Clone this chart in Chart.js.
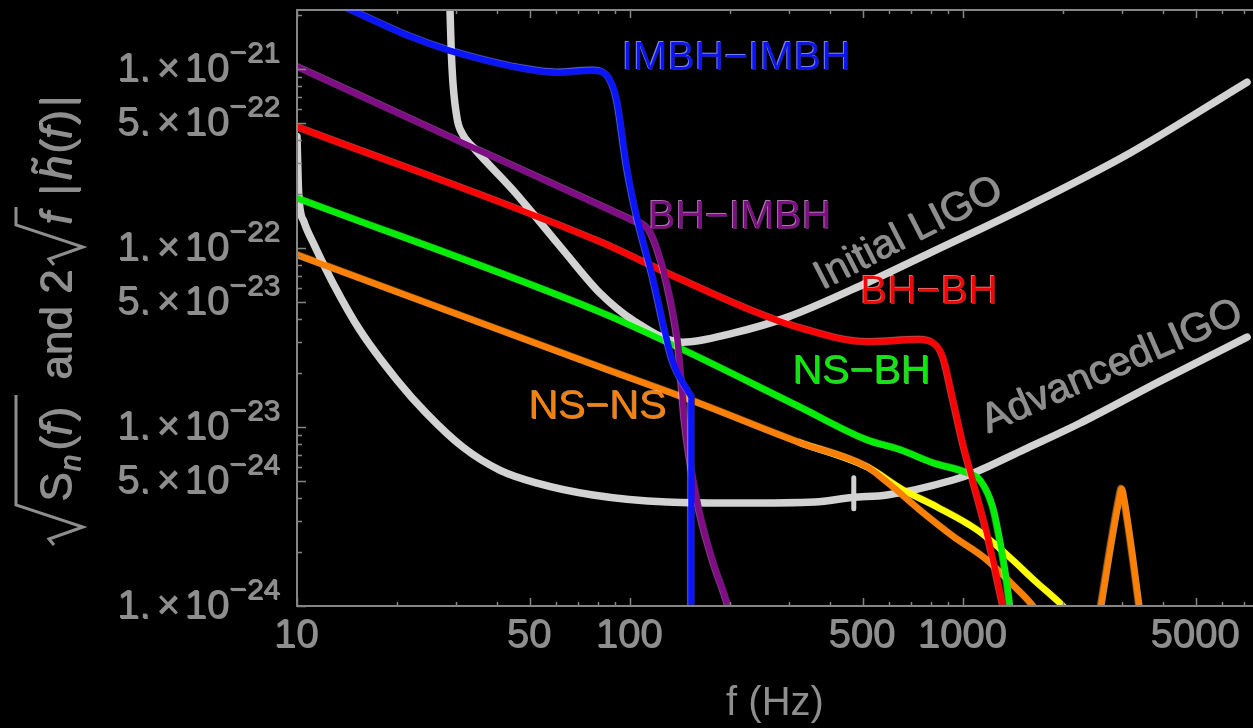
<!DOCTYPE html>
<html>
<head>
<meta charset="utf-8">
<title>LIGO noise curves and binary inspiral signals</title>
<script src="https://cdn.jsdelivr.net/npm/chart.js@4.4.1/dist/chart.umd.min.js"></script>
<style>
  html, body { margin: 0; padding: 0; background: #000; }
  #wrap { width: 1253px; height: 728px; }
</style>
</head>
<body>
<div id="wrap"><canvas id="chart" width="1253" height="728"></canvas></div>
<script>
// Frequencies in Hz, amplitudes in 1/sqrt(Hz)

// Detector noise curves
const freqInitialLigo = [28.6, 28.8, 29.2, 30.2, 31.3, 33.8, 44.5, 63, 81.3, 102, 144, 204, 296, 515, 796, 1600, 3177, 7130];
const ampInitialLigo  = [4e-21, 2.2e-21, 1.03e-21, 5.4e-22, 4.39e-22, 3.66e-22, 2.11e-22, 9.75e-23, 5.6e-23, 3.96e-23, 2.98e-23, 3.35e-23, 4.1e-23, 6.4e-23, 9.4e-23, 1.75e-22, 3.4e-22, 8.45e-22];

const freqAdvLigo = [10, 10.12, 10.5, 11.3, 12.83, 15.45, 19.97, 24.4, 31.5, 40.6, 52.6, 77.4, 129, 216, 359, 465, 591, 934, 1075, 1530, 2244, 3900, 7130];
const ampAdvLigo  = [4.2e-22, 2.0e-22, 1.4e-22, 1.03e-22, 6.37e-23, 3.48e-23, 1.83e-23, 1.2e-23, 7.72e-24, 5.75e-24, 4.86e-24, 4.17e-24, 3.81e-24, 3.76e-24, 3.81e-24, 4.04e-24, 4.17e-24, 5.06e-24, 5.53e-24, 7.5e-24, 1.05e-23, 1.8e-23, 3.18e-23];

// narrow resonance line on the Advanced LIGO curve
const freqAdvLigoLine = [470, 470];
const ampAdvLigoLine  = [5.2e-24, 3.5e-24];

// Signals
const freqImbhImbh = [10, 14.1, 22, 28.2, 44.5, 60.4, 77.4, 85.3, 91.4, 97.9, 105, 117, 134, 153];
const ampImbhImbh  = [2.9e-21, 2.19e-21, 1.51e-21, 1.28e-21, 1.03e-21, 9.55e-22, 9.8e-22, 9.2e-22, 6.7e-22, 2.84e-22, 1.49e-22, 6.9e-23, 2.37e-23, 1.47e-23];
const freqImbhCut = [153, 153];
const ampImbhCut  = [1.47e-23, 5e-25];

const freqBhImbh = [10, 31.5, 88.9, 102, 114, 121, 129, 138, 141, 146, 159, 177, 197, 210];
const ampBhImbh  = [1.03e-21, 3.86e-22, 1.6e-22, 1.42e-22, 1.26e-22, 9.75e-23, 6.37e-23, 3.35e-23, 2.37e-23, 1.09e-23, 3.91e-24, 1.81e-24, 1e-24, 6e-25];

const freqBhBh = [10, 81.3, 129, 229, 324, 515, 743, 813, 871, 934, 1000, 1050, 1180, 1320, 1400];
const ampBhBh  = [4.74e-22, 1.08e-22, 7.24e-23, 4.51e-23, 3.57e-23, 2.98e-23, 3.06e-23, 2.94e-23, 2.46e-23, 1.42e-23, 8.1e-24, 5.75e-24, 2.56e-24, 1e-24, 6e-25];

const freqNsBh = [10, 81.3, 129, 324, 515, 647, 813, 1028, 1125, 1230, 1291, 1356, 1384, 1430];
const ampNsBh  = [1.9e-22, 4.38e-23, 2.98e-23, 1.29e-23, 8.45e-24, 7.45e-24, 6.29e-24, 5.53e-24, 5.06e-24, 3.57e-24, 2.34e-24, 1.35e-24, 1e-24, 6e-25];

const freqNsNs = [10, 81.3, 151, 324, 515, 591, 743, 934, 1180, 1413, 1622, 1680];
const ampNsNs  = [9.14e-23, 2.16e-23, 1.42e-23, 8.15e-24, 5.98e-24, 4.93e-24, 3.43e-24, 2.45e-24, 1.81e-24, 1.31e-24, 1e-24, 9e-25];

const freqNsNsAlt = [324, 515, 661, 836, 1102, 1356, 1667, 1995, 2100];
const ampNsNsAlt  = [8.15e-24, 5.98e-24, 4.45e-24, 3.57e-24, 2.66e-24, 1.93e-24, 1.35e-24, 1e-24, 9e-25];

const freqNsNsPeak = [2523, 2960, 3000, 3040, 3475];
const ampNsNsPeak  = [7e-25, 4.1e-24, 4.5e-24, 4.1e-24, 7e-25];

// Axes
const xMin = 10, xMax = 7430;
const yMin = 1e-24, yMax = 2.14e-21;
const xTickValues = [10, 50, 100, 500, 1000, 5000];
const xTickLabels = ['10', '50', '100', '500', '1000', '5000'];
const yTickValues    = [1e-24, 5e-24, 1e-23, 5e-23, 1e-22, 5e-22, 1e-21];
const yTickMantissas = ['1.', '5.', '1.', '5.', '1.', '5.', '1.'];
const yTickExponents = ['\u221224', '\u221224', '\u221223', '\u221223', '\u221222', '\u221222', '\u221221'];

// Curve labels, anchored in data coordinates
const curveLabels = [
  { text: 'IMBH\u2212IMBH', f: 209, v: 1.15e-21, color: '#0a14ff', angle: 0 },
  { text: 'BH\u2212IMBH',   f: 214, v: 1.47e-22, color: '#800d86', angle: 0 },
  { text: 'BH\u2212BH',     f: 791, v: 5.61e-23, color: '#ff0000', angle: 0 },
  { text: 'NS\u2212BH',     f: 498, v: 2.0e-23,  color: '#00ee00', angle: 0 },
  { text: 'NS\u2212NS',     f: 80.2, v: 1.28e-23, color: '#ff7f00', angle: 0 },
  { text: 'Initial LIGO',   f: 690, v: 1.2e-22, color: '#8e8e8e', angle: 27 },
  { text: 'AdvancedLIGO',   f: 2818, v: 2.16e-23, color: '#8e8e8e', angle: 23.6 }
];

const TEXT_GRAY = '#8e8e8e';
const FRAME_GRAY = '#858585';
const CURVE_GRAY = '#d2d2d2';
const FONT = '"Liberation Sans", Arial, Helvetica, sans-serif';

function pairs(fs, vs) {
  return fs.map((f, i) => ({ x: f, y: vs[i] }));
}

function embossText(ctx, text, x, y, color) {
  ctx.fillStyle = 'rgba(255,255,255,0.55)';
  ctx.fillText(text, x - 1, y - 1);
  ctx.fillStyle = color;
  ctx.fillText(text, x, y);
}

// radical sign with its bar, in the rotated title frame
function radical(ctx, u0, u1) {
  ctx.beginPath();
  ctx.moveTo(u0, -18);
  ctx.lineTo(u0 + 6, -23);
  ctx.lineTo(u0 + 18, 11);
  ctx.lineTo(u0 + 40, -56);
  ctx.lineTo(u1, -56);
  ctx.stroke();
}

// y axis title: sqrt(S_n(f)) and 2 sqrt(f) |h~(f)|
function drawYTitle(ctx, area) {
  const reg = '44px ' + FONT, ital = 'italic 44px ' + FONT, sub = 'italic 30px ' + FONT;
  const put = (text, font, u, v) => {
    ctx.font = font;
    embossText(ctx, text, u, v, TEXT_GRAY);
    return u + ctx.measureText(text).width;
  };
  ctx.save();
  ctx.translate(72, area.bottom - 61);
  ctx.rotate(-Math.PI / 2);
  ctx.textAlign = 'left';
  ctx.textBaseline = 'alphabetic';
  ctx.strokeStyle = TEXT_GRAY;
  ctx.lineWidth = 3;
  ctx.lineJoin = 'miter';

  radical(ctx, 0, 150);
  let u = put('S', reg, 44, 0);
  u = put('n', sub, u + 1, 9);
  u = put('(', reg, u + 4, 0);
  u = put('f', ital, u, 0);
  put(')', reg, u + 2, 0);

  put('and 2', reg, 166, 0);

  radical(ctx, 280, 338);
  put('f', ital, 321, 0);

  u = put('|', reg, 350, 0);
  const hStart = u + 4;
  u = put('h', ital, hStart, 0);
  put('\u02dc', reg, hStart + 7, -8);
  u = put('(', reg, u + 2, 0);
  u = put('f', ital, u, 0);
  u = put(')', reg, u + 2, 0);
  put('|', reg, u + 3, 0);
  ctx.restore();
}

// light edge on the coloured curves, like the original rendering
const glowPlugin = {
  id: 'glow',
  beforeDatasetDraw(chart, args) {
    const ds = chart.data.datasets[args.index];
    if (ds.glow) {
      chart.ctx.save();
      chart.ctx.shadowColor = 'rgba(255,255,255,0.45)';
      chart.ctx.shadowOffsetX = -1;
      chart.ctx.shadowOffsetY = -1;
      chart.ctx.shadowBlur = 1;
    }
  },
  afterDatasetDraw(chart, args) {
    const ds = chart.data.datasets[args.index];
    if (ds.glow) chart.ctx.restore();
  }
};

const decorPlugin = {
  id: 'decor',
  afterDatasetsDraw(chart) {
    const { ctx, chartArea: a, scales: { x, y } } = chart;
    ctx.save();

    // frame
    ctx.strokeStyle = FRAME_GRAY;
    ctx.lineWidth = 2;
    ctx.beginPath();
    ctx.moveTo(a.right, a.top);
    ctx.lineTo(a.left, a.top);
    ctx.lineTo(a.left, a.bottom);
    ctx.lineTo(a.right, a.bottom);
    ctx.stroke();

    // inward ticks
    ctx.lineWidth = 1.5;
    ctx.beginPath();
    for (let e = 1; e <= 3; e++) {
      for (let m = 1; m <= 9; m++) {
        const f = m * Math.pow(10, e);
        if (f < xMin || f > xMax) continue;
        const px = Math.round(x.getPixelForValue(f)) + 0.5;
        const len = (m === 1 || m === 5) ? 8 : 4;
        ctx.moveTo(px, a.bottom); ctx.lineTo(px, a.bottom - len);
        ctx.moveTo(px, a.top); ctx.lineTo(px, a.top + len);
      }
    }
    for (let e = -24; e <= -21; e++) {
      for (let m = 1; m <= 9; m++) {
        const v = m * Math.pow(10, e);
        if (v < yMin || v > yMax) continue;
        const py = Math.round(y.getPixelForValue(v)) + 0.5;
        const len = (m === 1 || m === 5) ? 9 : 5;
        ctx.moveTo(a.left, py); ctx.lineTo(a.left + len, py);
      }
    }
    ctx.stroke();

    // x tick labels
    ctx.font = '40px ' + FONT;
    ctx.textAlign = 'center';
    ctx.textBaseline = 'alphabetic';
    xTickValues.forEach((f, i) => {
      embossText(ctx, xTickLabels[i], x.getPixelForValue(f), a.bottom + 42, TEXT_GRAY);
    });

    // y tick labels: mantissa x 10^exponent
    ctx.textAlign = 'right';
    yTickValues.forEach((v, i) => {
      const py = y.getPixelForValue(v);
      let right = a.left - 16;
      ctx.font = '30px ' + FONT;
      embossText(ctx, yTickExponents[i], right, py - 6, TEXT_GRAY);
      right -= ctx.measureText(yTickExponents[i]).width;
      ctx.font = '40px ' + FONT;
      embossText(ctx, '10', right, py + 13, TEXT_GRAY);
      right -= ctx.measureText('10').width + 5;
      embossText(ctx, '\u00d7', right, py + 13, TEXT_GRAY);
      right -= ctx.measureText('\u00d7').width + 6;
      embossText(ctx, yTickMantissas[i], right, py + 13, TEXT_GRAY);
    });

    drawYTitle(ctx, a);

    // curve labels
    ctx.font = '41px ' + FONT;
    ctx.textAlign = 'center';
    ctx.textBaseline = 'middle';
    curveLabels.forEach(l => {
      ctx.save();
      ctx.translate(x.getPixelForValue(l.f), y.getPixelForValue(l.v));
      ctx.rotate(-l.angle * Math.PI / 180);
      embossText(ctx, l.text, 0, 0, l.color);
      ctx.restore();
    });

    ctx.restore();
  }
};

function curve(fs, vs, color, width, glow, straight) {
  return {
    data: pairs(fs, vs),
    borderColor: color,
    borderWidth: width,
    pointRadius: 0,
    cubicInterpolationMode: straight ? 'default' : 'monotone',
    tension: 0,
    borderCapStyle: 'round',
    borderJoinStyle: 'round',
    clip: 0,
    glow: glow
  };
}

Chart.defaults.font.family = FONT;

new Chart(document.getElementById('chart'), {
  type: 'line',
  data: {
    // first dataset is drawn on top
    datasets: [
      curve(freqImbhImbh, ampImbhImbh, '#0a14ff', 6.5, true, false),
      curve(freqImbhCut, ampImbhCut, '#0a14ff', 6.5, true, true),
      curve(freqBhImbh, ampBhImbh, '#800d86', 6.5, true, false),
      curve(freqBhBh, ampBhBh, '#ff0000', 6.5, true, false),
      curve(freqNsBh, ampNsBh, '#00ee00', 6.5, true, false),
      curve(freqNsNsPeak, ampNsNsPeak, '#ff7f00', 6.5, true, false),
      curve(freqNsNs, ampNsNs, '#ff7f00', 6.5, true, false),
      curve(freqNsNsAlt, ampNsNsAlt, '#ffff00', 6.5, true, false),
      curve(freqAdvLigoLine, ampAdvLigoLine, CURVE_GRAY, 5, false, true),
      curve(freqAdvLigo, ampAdvLigo, CURVE_GRAY, 7.5, false, false),
      curve(freqInitialLigo, ampInitialLigo, CURVE_GRAY, 7.5, false, false)
    ]
  },
  options: {
    responsive: false,
    animation: false,
    devicePixelRatio: 1,
    layout: { padding: { top: 10, right: 0, bottom: 0, left: 0 } },
    elements: { line: { capBezierPoints: false } },
    plugins: {
      legend: { display: false },
      tooltip: { enabled: false }
    },
    scales: {
      x: {
        type: 'logarithmic',
        min: xMin,
        max: xMax,
        grid: { display: false },
        border: { display: false },
        ticks: { display: false },
        title: {
          display: true,
          text: 'f (Hz)',
          color: TEXT_GRAY,
          font: { size: 40 },
          padding: { top: 0, bottom: 0 }
        },
        afterFit(scale) { scale.height = 122; }
      },
      y: {
        type: 'logarithmic',
        min: yMin,
        max: yMax,
        grid: { display: false },
        border: { display: false },
        ticks: { display: false },
        title: { display: false },
        afterFit(scale) { scale.width = 297; }
      }
    }
  },
  plugins: [glowPlugin, decorPlugin]
});
</script>
</body>
</html>
